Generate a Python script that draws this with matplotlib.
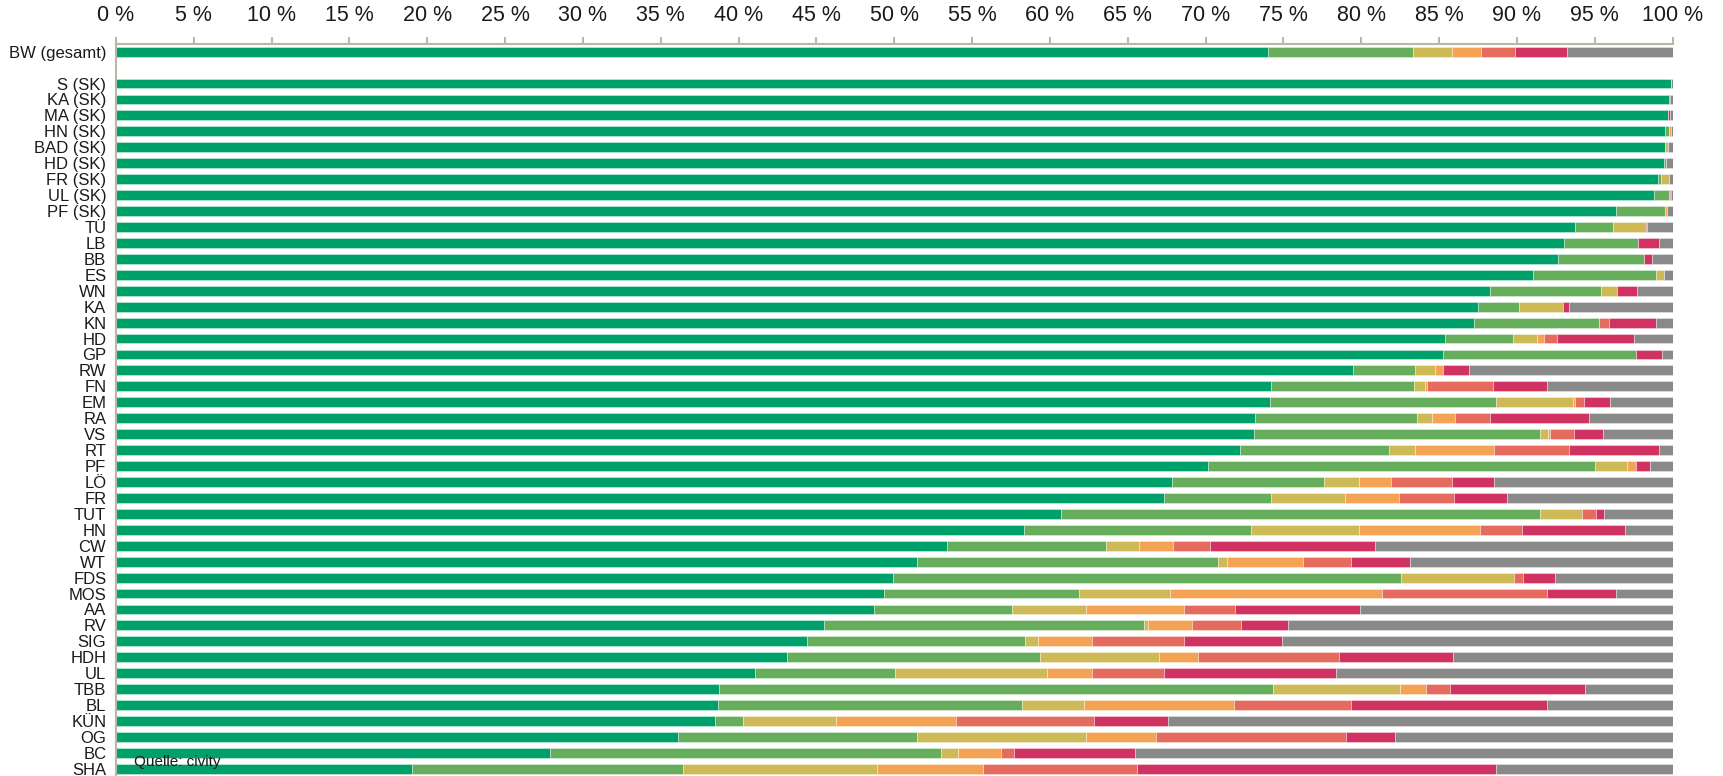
import numpy as np
import matplotlib
matplotlib.use('Agg')
import matplotlib.pyplot as plt

plt.rcParams['font.family'] = ['Liberation Sans', 'DejaVu Sans']

# row labels, top to bottom (BW total first, then a gap)
labels = ["BW (gesamt)", "S (SK)", "KA (SK)", "MA (SK)", "HN (SK)", "BAD (SK)", "HD (SK)",
          "FR (SK)", "UL (SK)", "PF (SK)", "TÜ", "LB", "BB", "ES", "WN", "KA", "KN", "HD",
          "GP", "RW", "FN", "EM", "RA", "VS", "RT", "PF", "LÖ", "FR", "TUT", "HN", "CW",
          "WT", "FDS", "MOS", "AA", "RV", "SIG", "HDH", "UL", "TBB", "BL", "KÜN", "OG",
          "BC", "SHA"]

# cumulative right ends (%) of each coloured segment; grey runs to 100
end_green = [74.0, 99.9, 99.8, 99.68, 99.5, 99.5, 99.47, 99.06, 98.8, 96.36, 93.73, 93.03,
             92.63, 91.03, 88.26, 87.51, 87.25, 85.4, 85.26, 79.48, 74.22, 74.16, 73.18,
             73.12, 72.2, 70.16, 67.82, 67.31, 60.7, 58.36, 53.36, 51.47, 49.93, 49.36,
             48.7, 45.48, 44.38, 43.11, 41.04, 38.75, 38.66, 38.47, 36.1, 27.88, 19.03]
end_lgreen = [83.3, 99.9, 99.8, 99.68, 99.75, 99.5, 99.55, 99.23, 99.8, 99.5, 96.17, 97.75,
              98.15, 98.94, 95.4, 90.14, 95.28, 89.74, 97.63, 83.45, 83.4, 88.68, 83.58,
              91.47, 81.8, 95.02, 77.63, 74.22, 91.47, 72.91, 63.61, 70.78, 82.53, 61.85,
              57.54, 66.07, 58.38, 59.39, 50.02, 74.34, 58.19, 40.27, 51.48, 53.0, 36.43]
end_yellow = [85.8, 99.9, 99.8, 99.68, 99.8, 99.68, 99.55, 99.75, 99.8, 99.5, 98.29, 97.75,
              98.15, 99.46, 96.45, 92.96, 95.28, 91.31, 97.63, 84.74, 84.12, 93.63, 84.56,
              92.0, 83.47, 97.04, 79.88, 78.96, 94.16, 79.88, 65.72, 71.35, 89.79, 67.7,
              62.29, 66.29, 59.21, 67.0, 59.78, 82.48, 62.21, 46.23, 62.31, 54.08, 48.89]
end_orange = [87.7, 99.9, 99.8, 99.68, 99.87, 99.68, 99.55, 99.75, 99.8, 99.66, 98.29, 97.75,
              98.15, 99.46, 96.45, 92.96, 95.28, 91.71, 97.63, 85.28, 84.2, 93.72, 86.01,
              92.15, 88.5, 97.66, 81.89, 82.4, 94.16, 87.61, 67.88, 76.24, 89.79, 81.3,
              68.63, 69.11, 62.73, 69.5, 62.73, 84.15, 71.85, 53.94, 66.8, 56.88, 55.67]
end_salmon = [89.9, 99.9, 99.8, 99.68, 99.87, 99.68, 99.55, 99.8, 99.85, 99.66, 98.29, 97.75,
              98.15, 99.46, 96.45, 92.96, 95.89, 92.6, 97.63, 85.28, 88.44, 94.31, 88.27,
              93.66, 93.33, 97.66, 85.81, 85.95, 95.08, 90.31, 70.3, 79.36, 90.4, 91.94,
              71.88, 72.28, 68.58, 78.57, 67.3, 85.7, 79.37, 62.81, 79.0, 57.72, 65.61]
end_crimson = [93.2, 99.9, 99.85, 99.83, 99.87, 99.68, 99.55, 99.8, 99.9, 99.66, 98.38, 99.13,
               98.69, 99.46, 97.72, 93.36, 98.94, 97.49, 99.32, 86.92, 91.91, 96.0, 94.61,
               95.56, 99.11, 98.58, 88.53, 89.39, 95.62, 96.95, 80.86, 83.1, 92.47, 96.34,
               79.89, 75.27, 74.92, 85.92, 78.35, 94.36, 91.95, 67.6, 82.14, 65.48, 88.68]
end_grey = [100.0] * len(labels)

colors = ['#00a06a', '#67ae5c', '#cdb955', '#f4a354', '#e46b5d', '#d03262', '#898989']

W, H = 1723, 776
fig = plt.figure(figsize=(W / 100, H / 100), dpi=100)
ax = fig.add_axes([116 / W, 0, (1672.6 - 116) / W, 1 - 44 / H])

ypos = np.array([0] + list(range(2, len(labels) + 1)))
ends = [end_green, end_lgreen, end_yellow, end_orange, end_salmon, end_crimson, end_grey]
left = np.zeros(len(labels))
for e, c in zip(ends, colors):
    e = np.array(e)
    ax.barh(ypos, e - left, left=left, height=0.62, color=c,
            edgecolor=(1, 1, 1, 0.5), linewidth=0.5)
    left = e

ax.set_xlim(0, 100)
ax.set_ylim(45.45, -0.48)
ax.set_yticks(ypos)
ax.set_yticklabels(labels)
ax.xaxis.tick_top()
ax.set_xticks(range(0, 101, 5))
ax.set_xticklabels([f"{v} %" for v in range(0, 101, 5)])

spine_col = '#b8b8a6'
for s in ['right', 'bottom']:
    ax.spines[s].set_visible(False)
for s in ['left', 'top']:
    ax.spines[s].set_color(spine_col)
    ax.spines[s].set_linewidth(1.5)
ax.tick_params(axis='x', colors=spine_col, labelcolor='#1a1a1a', length=5, width=1.5,
               labelsize=15.5, pad=8)
ax.tick_params(axis='y', length=0, labelsize=12, pad=7, labelcolor='#1a1a1a')

fig.text(134 / W, 1 - 762 / H, "Quelle: civity", fontsize=11, va='center', color='#1a1a1a')

fig.savefig('out.png', dpi=100)
